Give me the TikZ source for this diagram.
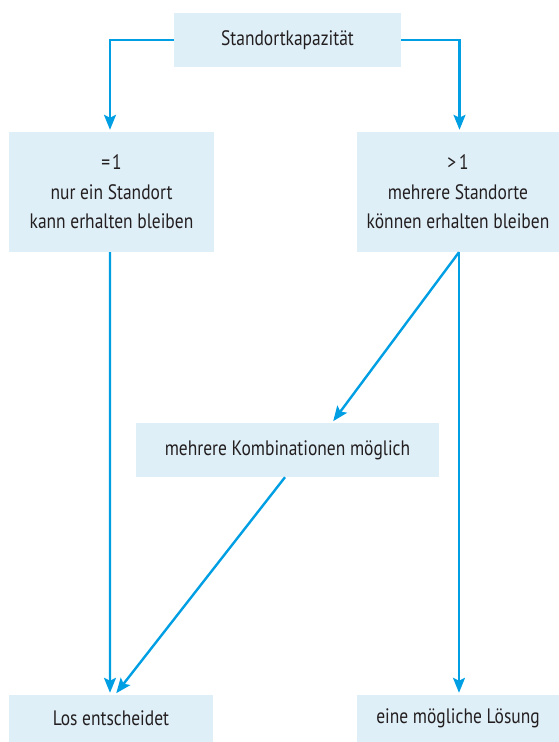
\documentclass[tikz,border=0pt]{standalone}
\usepackage{fontspec}
\setmainfont{PT Sans}[FakeStretch=0.835]
\usetikzlibrary{arrows.meta}
\definecolor{boxfill}{HTML}{DFEFF8}
\definecolor{arrowblue}{HTML}{009FE3}
\definecolor{txt}{HTML}{231F20}
\tikzset{
  box/.style={fill=boxfill, draw=none, inner sep=0pt, align=center, text=txt,
    font=\fontsize{21}{29.5}\selectfont},
  conn/.style={draw=arrowblue, line width=2.4bp,
    -{Stealth[length=15bp,width=12bp,inset=3bp]}, shorten >=2bp}
}
\begin{document}
\begin{tikzpicture}[x=1bp,y=-1bp]
\useasboundingbox (0,0) rectangle (559,742);
\node[box, minimum width=227bp, minimum height=54bp] (top) at (287.5,40) {Standortkapazität};
\node[box, minimum width=205bp, minimum height=120bp] (left) at (111.5,192) {=\kern2pt1\\nur ein Standort\\kann erhalten bleiben};
\node[box, minimum width=202bp, minimum height=120bp] (right) at (458,192) {>\kern3pt1\\mehrere Standorte\\können erhalten bleiben};
\node[box, minimum width=303bp, minimum height=54bp] (mid) at (287.5,450) {mehrere Kombinationen möglich};
\node[box, minimum width=204bp, minimum height=47bp] (bl) at (111,718.5) {Los entscheidet};
\node[box, minimum width=202bp, minimum height=47bp] (br) at (458,718.5) {eine mögliche Lösung};
\draw[conn] (top.west) -| ([xshift=-1.5bp]left.north);
\draw[conn] (top.east) -| ([xshift=1.5bp]right.north);
\draw[conn] ([xshift=-1.5bp]left.south) -- ([xshift=-1bp]bl.north);
\draw[conn] ([xshift=1bp]right.south) -- ([xshift=1bp]br.north);
\draw[conn] ([xshift=1bp]right.south) -- ([xshift=44.5bp]mid.north);
\draw[conn] ([xshift=-2.5bp]mid.south) -- ([xshift=4bp]bl.north);
\end{tikzpicture}
\end{document}
